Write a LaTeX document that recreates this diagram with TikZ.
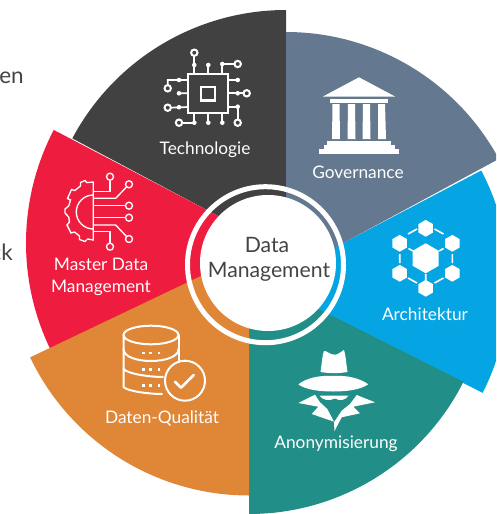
\documentclass[tikz,border=0pt]{standalone}
\usepackage{fontspec}
\setmainfont{Lato}
\definecolor{cDark}{HTML}{414141}
\definecolor{cGov}{HTML}{64798F}
\definecolor{cBlue}{HTML}{05A5E3}
\definecolor{cTeal}{HTML}{218E87}
\definecolor{cOrange}{HTML}{DF8637}
\definecolor{cRed}{HTML}{EE1C3E}
\definecolor{cText}{HTML}{444444}
\newcommand\sectorshape[6]{\fill[#1] (#2,#3) -- ++(#5:#4) arc[start angle=#5,end angle=#6,radius=#4] -- cycle;}
\tikzset{
  lab/.style={text=white,font=\fontsize{17.3}{20}\selectfont,inner sep=0pt,align=center},
  ico/.style={draw=white,line width=2pt,line cap=round,line join=round},
  pinc/.style={draw=white,line width=1.7pt},
  gearline/.style={draw=white,line width=1.35pt}
}
\newcommand\chipdot[2]{\fill[white] (#1,#2) circle[radius=2.3];}
\newcommand\chipring[2]{\draw[pinc,line width=2pt] (#1,#2) circle[radius=3.2];}
\newcommand\gearring[2]{\draw[gearline] (#1,#2) circle[radius=3.5];}
\newcommand\hexa[3]{\fill[white] (#1,#2) ++(90:#3) -- ++(330:#3) -- ++(270:#3) -- ++(210:#3) -- ++(150:#3) -- ++(90:#3) -- cycle;}
\begin{document}
\begin{tikzpicture}[x=1pt,y=1pt,yscale=-1]
\useasboundingbox (0,0) rectangle (496,514);
\clip (0,0) rectangle (496,514);
% sectors
\sectorshape{cDark}{286}{252}{242}{270}{208}
\sectorshape{cRed}{270}{243}{244}{207.6}{150}
\sectorshape{cBlue}{267}{283}{242}{27}{-27.7}
\sectorshape{cTeal}{249}{274}{240}{90}{26.7}
\sectorshape{cOrange}{249}{253}{242.5}{154.5}{90}
\sectorshape{cGov}{286}{274}{242}{270}{331.6}
% ring
\fill[white,even odd rule] (265.5,264.7) circle[radius=80.5] (265.5,264.7) circle[radius=75.5];
\fill[white] (268,263) circle[radius=68];
% centre
\node[text=cText,font=\fontsize{21.2}{24}\selectfont,inner sep=0pt] (dataT) at (267,245) {Data};
\node[text=cText,font=\fontsize{21.2}{24}\selectfont,inner sep=0pt] (mgmtT) at (269,271.5) {Management};
% labels
\node[lab] (tech) at (205,149.5) {Technologie};
\node[lab] (gov) at (358,172.5) {Governance};
\node[lab] (arch) at (425,314) {Architektur};
\node[lab] (anon) at (336,443.5) {Anonymisierung};
\node[lab] (dq) at (162,418.5) {Daten-Qualität};
\node[lab] (mdm1) at (101,264) {Master Data};
\node[lab] (mdm2) at (101,288) {Management};
% clipped text at the left
\node[text=cText,font=\fontsize{22.5}{26}\selectfont,inner sep=0pt,anchor=base east] (frag1) at (24,83) {en};
\node[text=cText,font=\fontsize{22.5}{26}\selectfont,inner sep=0pt,anchor=base east] (frag2) at (13,260) {ck};
% chip icon
\draw[white,line width=2.4pt] (188,74) rectangle (228,113);
\draw[white,line width=2.4pt] (201,87) rectangle (215,100.5);
\draw[pinc] (194.3,73) -- (194.3,56) (208.3,73) -- (208.3,65) (222.3,73) -- (222.3,64) -- (234.5,64);
\draw[pinc] (228,80) -- (237.7,80) (228,93.3) -- (243.5,93.3) (228,106.7) -- (237.7,106.7) -- (237.7,119.5);
\draw[pinc] (194.3,113) -- (194.3,122.7) -- (182.2,122.7) (208.3,113) -- (208.3,122.7) (222.3,113) -- (222.3,122.7);
\draw[pinc] (188,80) -- (167.7,80) -- (167.7,85.1) (188,93.3) -- (179,93.3) (188,107) -- (170.9,107.7);
\chipdot{194.3}{65}\chipdot{208.3}{65}\chipdot{222.3}{64}
\chipdot{237.7}{80}\chipdot{237.7}{93.3}\chipdot{237.7}{106.7}
\chipdot{194.3}{122.7}\chipdot{208.3}{122.7}\chipdot{222.3}{122.7}
\chipdot{179}{80}\chipdot{179}{93.3}\chipdot{179}{107.2}
\chipring{194.3}{52.7}\chipring{237.7}{64}\chipring{246.7}{93.3}\chipring{237.7}{122.7}
\chipring{179}{122.7}\chipring{167.7}{88.3}\chipring{167.7}{107.7}
% gear icon
\draw[gearline,line join=miter] (93.3,182)
  -- (87,182.6) -- (85,180.5) -- (80.5,182.5) -- (80.5,186) -- (74.8,190.5) -- (71.5,189.5) -- (67.5,198.5)
  -- (70.5,200) -- (68.7,206) -- (65,209) -- (65,213) -- (68.7,217) -- (69.5,222) -- (67,225) -- (71,233)
  -- (74.5,232) -- (79.5,236) -- (79.5,239.5) -- (85,241.5) -- (87.5,239) -- (93.3,240) -- cycle;
\draw[gearline] (93.3,195) arc[start angle=270,end angle=90,radius=17];
\draw[gearline] (93.3,191.7) -- (110,191.7) -- (110,180.2);
\draw[gearline] (93.3,198.3) -- (115.7,198.3) -- (126.5,187);
\draw[gearline] (93.3,205.7) -- (125.5,205.7);
\draw[gearline] (93.3,217.7) -- (125.5,217.7);
\draw[gearline] (93.3,225) -- (115.7,225) -- (126.5,236.5);
\draw[gearline] (93.3,231.7) -- (110,231.7) -- (110,243.2);
\gearring{110}{176.7}\gearring{129}{184.3}\gearring{129}{205.7}\gearring{129}{217.7}\gearring{129}{239}\gearring{110}{246.7}
% bank icon
\fill[white] (323,96.5) -- (359,77.3) -- (395,96.5) -- cycle;
\fill[white] (330,98.5) rectangle (388,103);
\fill[white] (332.5,104) -- (339.5,104) -- (340,139) -- (332,139) -- cycle;
\fill[white] (348,104) -- (355,104) -- (355.5,139) -- (347.5,139) -- cycle;
\fill[white] (363,104) -- (370,104) -- (370.5,139) -- (362.5,139) -- cycle;
\fill[white] (378,104) -- (385,104) -- (386,139) -- (378,139) -- cycle;
\fill[white] (327,140.5) rectangle (391,144.5);
\fill[white] (323.5,145) rectangle (395,149);
\fill[white] (319,149) rectangle (399,154);
% hex network
\hexa{425.7}{258.3}{15}
\hexa{425.7}{228.3}{8.4}\hexa{399.7}{243.3}{8.4}\hexa{452.3}{243.3}{8.4}
\hexa{399.7}{273.3}{8.4}\hexa{452.3}{273.3}{8.4}\hexa{425.7}{288.3}{8.4}
\draw[white,line width=1.6pt]
  (408,234) -- (417,229) (434.5,229) -- (443.5,234)
  (399.7,254) -- (399.7,263) (452.3,254) -- (452.3,263)
  (408,278) -- (417,283) (434.5,283) -- (443.5,278)
  (408.5,248.5) -- (413,251) (443.5,248.5) -- (439,251)
  (425.7,274) -- (425.7,280);
% database icon
\draw[ico] (151,335) circle[x radius=27.5,y radius=9.3];
\draw[ico] (123.5,335) -- (123.5,387) .. controls (128,391.5) and (150,394) .. (162,394);
\draw[ico] (178.5,335) -- (178.5,362);
\draw[ico] (123.5,349) .. controls (123.5,365) and (178.5,365) .. (178.5,349);
\draw[ico] (123.5,369) .. controls (128,374) and (150,377) .. (163,377);
\foreach \yy in {353,369.3,385.7}{\foreach \xx in {143.3,150.7,159}{\fill[white] (\xx-1.3,\yy-1.3) rectangle (\xx+1.3,\yy+1.3);}}
\draw[white,line width=2pt] (185,380.7) circle[radius=20];
\draw[ico,line width=2.6pt] (175,381.7) -- (181,387.7) -- (193.7,375);
% spy icon
\fill[white] (320.5,372) .. controls (322,362) and (322.5,354) .. (324,351) .. controls (327,350.5) and (330,355) .. (335,354.7) .. controls (339,354.5) and (341,351) .. (344,350) .. controls (345.5,354) and (346,362) .. (347.5,372) .. controls (338,373.5) and (330,373.5) .. cycle;
\fill[white] (298.3,384.3) .. controls (306,378.5) and (318,375) .. (333,376) .. controls (348,375) and (360,378.5) .. (368.3,384.3) .. controls (360,390) and (346,391.5) .. (333,391.5) .. controls (320,391.5) and (306,390) .. cycle;
\fill[white] (319.5,395.5) -- (348.5,395.5) .. controls (346,400) and (340,401.5) .. (335,398.5) .. controls (329,401.5) and (322,400) .. cycle;
\fill[white] (298.3,403) -- (315,394.7) -- (320,402.3) -- (327.3,409) -- (334,421.7) -- (311.7,414) -- (318.3,406.7) -- cycle;
\fill[white] (375,402.3) -- (356.7,395) -- (350,404) -- (341.7,410.7) -- (334,422.3) -- (334.5,431) -- (341.7,417.3) -- (360,413.3) -- (353.3,406.7) -- cycle;
\end{tikzpicture}
\end{document}
